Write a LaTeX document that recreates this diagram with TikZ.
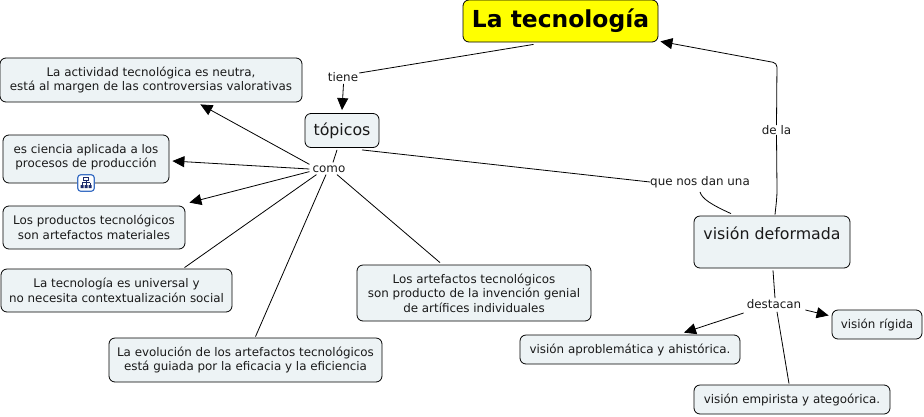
\documentclass[tikz,border=0pt]{standalone}
\usepackage{fontspec}
\setmainfont{DejaVu Sans}
\usetikzlibrary{arrows.meta,calc}
\definecolor{Cfill}{HTML}{EDF3F5}
\definecolor{Ctext}{HTML}{1A1A1A}
\definecolor{Ctitle}{HTML}{FFFF00}
\definecolor{Cicon}{HTML}{3B6FC4}
\definecolor{Cnavy}{HTML}{1C2A6B}
\tikzset{
  concept/.style={rectangle, rounded corners=6pt, draw=black, line width=0.8pt, fill=Cfill, text=Ctext, align=center, inner sep=0pt, font=\fontsize{11.9}{14.5}\selectfont},
  bigconcept/.style={concept, font=\fontsize{15.8}{17}\selectfont},
  headline/.style={concept, fill=Ctitle, text=black, font=\fontsize{23.4}{28}\selectfont\bfseries},
  word/.style={inner sep=0pt, text=Ctext, font=\fontsize{11.9}{14}\selectfont},
  link/.style={-{Triangle[length=12pt, width=11pt]}, line width=0.8pt},
  plain/.style={line width=0.8pt},
}
\begin{document}
\begin{tikzpicture}[x=1pt, y=-1pt]
  \useasboundingbox (0,0) rectangle (924,416);
  % concepts
  \node[headline, minimum width=195pt, minimum height=42pt] (tec) at (560.5,21) {La tecnología};
  \node[bigconcept, minimum width=74pt, minimum height=34pt] (top) at (342,130.5) {tópicos};
  \node[concept, minimum width=302pt, minimum height=44pt] (neutra) at (151,80) {La actividad tecnológica es neutra,\\está al margen de las controversias valorativas};
  \node[concept, minimum width=166pt, minimum height=48pt] (ciencia) at (86,159) {es ciencia aplicada a los\\procesos de producción\\[-8.5pt]~};
  \node[concept, minimum width=182pt, minimum height=43pt] (prod) at (94,227.5) {Los productos tecnológicos\\son artefactos materiales};
  \node[concept, minimum width=231pt, minimum height=43pt] (univ) at (116.5,290.5) {La tecnología es universal y\\no necesita contextualización social};
  \node[concept, minimum width=273pt, minimum height=44pt] (evol) at (245.5,360) {La evolución de los artefactos tecnológicos\\está guiada por la eficacia y la eficiencia};
  \node[concept, minimum width=234pt, minimum height=56pt] (genial) at (474,293) {Los artefactos tecnológicos\\son producto de la invención genial\\de artífices individuales};
  \node[bigconcept, minimum width=156pt, minimum height=52pt] (vis) at (772,242) {visión deformada\\~};
  \node[concept, minimum width=90pt, minimum height=29pt] (rigida) at (877,324.5) {visión rígida};
  \node[concept, minimum width=220pt, minimum height=29pt] (aprob) at (630,349.5) {visión aproblemática y ahistórica.};
  \node[concept, minimum width=196pt, minimum height=29pt] (emp) at (792,399.5) {visión empirista y ategoórica.};
  % linking words
  \node[word] (tiene) at (343,77) {tiene};
  \node[word] (como) at (329,169) {como};
  \node[word] (dan) at (700,182) {que nos dan una};
  \node[word] (dela) at (776.5,130) {de la};
  \node[word] (dest) at (774,304) {destacan};
  % icon
  \node[draw=Cicon, fill=white, rounded corners=3pt, line width=1.2pt, minimum size=16.5pt, inner sep=0pt] (icon) at (86,183) {};
  \draw[Cnavy, line width=0.8pt] (83.5,177.5) rectangle (88.5,180) (86,180) -- (86,182.5) (82,182.5) -- (90,182.5) (82,182.5) -- (82,185) (90,182.5) -- (90,185) (86,182.5) -- (86,185);
  \fill[Cnavy] (80.5,185) rectangle (83.5,188) (84.5,185) rectangle (87.5,188) (88.5,185) rectangle (91.5,188);
  % connectors
  \draw[plain] ($(tiene.east)+(1,-4)$) -- ($(tec.south)+(-27,2)$);
  \draw[link] ($(tiene.south)+(0.5,2)$) -- ($(top.north)+(0,-3)$);
  \draw[plain] ($(top.south)+(-5,2)$) -- ($(como.north)+(4,-3)$);
  \draw[link] ($(como.north west)+(-3,-1)$) -- ($(neutra.south east)+(-102,2)$);
  \draw[link] ($(como.west)+(-3,0)$) -- ($(ciencia.east)+(3,2)$);
  \draw[link] ($(como.south west)+(-3,-1)$) -- ($(prod.north east)+(4,-3)$);
  \draw[plain] ($(como.south west)+(4,2)$) -- ($(univ.north)+(68,-1)$);
  \draw[plain] ($(como.south)+(-3,2)$) -- ($(evol.north)+(10,-1)$);
  \draw[plain] ($(como.south)+(8,2)$) -- ($(genial.north)+(-34,-2)$);
  \draw[plain] ($(top.south)+(20,2)$) -- (dan.west);
  \draw[plain] ($(dan.south)+(0,4)$) .. controls ($(dan.south)+(2,11)$) and ($(dan.south)+(12,17)$) .. ($(vis.north)+(-41,-2)$);
  \draw[plain] ($(vis.north)+(3,-1)$) .. controls (776,205) and (777,198) .. (777,190) -- (dela.south);
  \draw[link, rounded corners=4pt] (dela.north) -- (777,63) -- ($(tec.south east)+(2,-1)$);
  \draw[plain] ($(vis.south)+(1,2)$) -- ($(dest.north)+(1,-1)$);
  \draw[link] ($(dest.east)+(4,6)$) -- ($(rigida.west)+(-3,-9)$);
  \draw[link] ($(dest.west)+(-3,9)$) -- ($(aprob.north)+(54,-2)$);
  \draw[plain] ($(dest.south)+(3,3)$) -- ($(emp.north)+(-3,-1)$);
\end{tikzpicture}
\end{document}
